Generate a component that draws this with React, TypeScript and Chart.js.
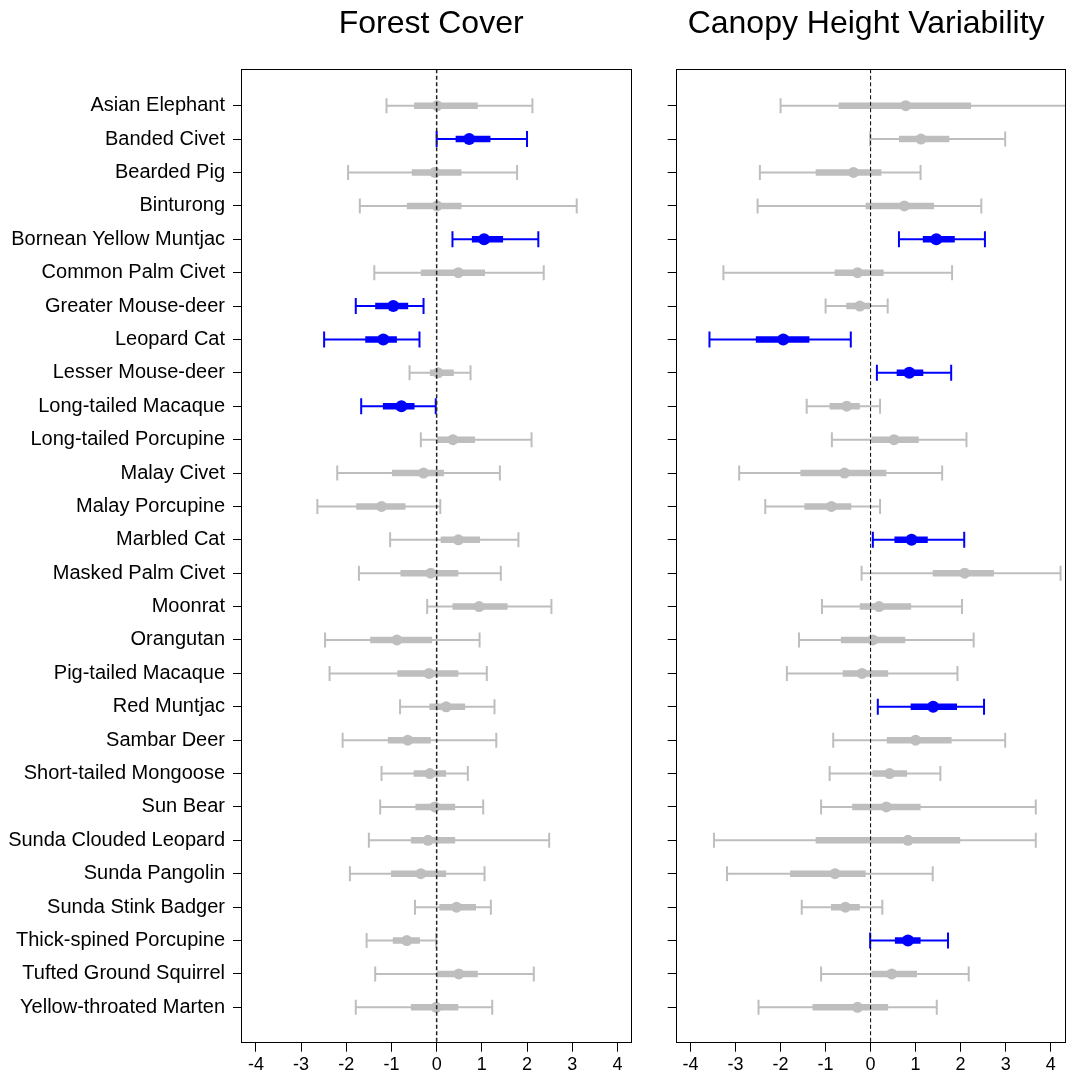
import React, { useEffect, useRef } from "react";
import { Chart, registerables } from "chart.js";

Chart.register(...registerables);

const species = [
  "Asian Elephant", "Banded Civet", "Bearded Pig", "Binturong", "Bornean Yellow Muntjac",
  "Common Palm Civet", "Greater Mouse-deer", "Leopard Cat", "Lesser Mouse-deer",
  "Long-tailed Macaque", "Long-tailed Porcupine", "Malay Civet", "Malay Porcupine",
  "Marbled Cat", "Masked Palm Civet", "Moonrat", "Orangutan", "Pig-tailed Macaque",
  "Red Muntjac", "Sambar Deer", "Short-tailed Mongoose", "Sun Bear", "Sunda Clouded Leopard",
  "Sunda Pangolin", "Sunda Stink Badger", "Thick-spined Porcupine", "Tufted Ground Squirrel",
  "Yellow-throated Marten",
];

// Forest Cover
const fcEst = [0.01, 0.72, -0.04, 0.01, 1.05, 0.48, -0.96, -1.18, 0.03, -0.78, 0.36, -0.29, -1.22, 0.48, -0.13, 0.94, -0.88, -0.17, 0.21, -0.64, -0.15, -0.04, -0.19, -0.35, 0.44, -0.66, 0.49, -0.01];
const fcLo50 = [-0.50, 0.42, -0.55, -0.66, 0.78, -0.35, -1.36, -1.58, -0.15, -1.19, 0.00, -0.99, -1.78, 0.09, -0.80, 0.35, -1.47, -0.87, -0.16, -1.08, -0.51, -0.47, -0.57, -1.01, 0.06, -0.97, 0.00, -0.57];
const fcHi50 = [0.91, 1.19, 0.55, 0.55, 1.47, 1.07, -0.63, -0.88, 0.38, -0.49, 0.85, 0.16, -0.69, 0.96, 0.48, 1.57, -0.10, 0.48, 0.63, -0.13, 0.21, 0.41, 0.41, 0.21, 0.87, -0.37, 0.91, 0.48];
const fcLo95 = [-1.11, 0.00, -1.96, -1.70, 0.35, -1.38, -1.79, -2.49, -0.60, -1.67, -0.35, -2.20, -2.64, -1.03, -1.72, -0.21, -2.47, -2.37, -0.81, -2.08, -1.22, -1.25, -1.50, -1.92, -0.48, -1.55, -1.36, -1.79];
const fcHi95 = [2.12, 2.00, 1.78, 3.10, 2.25, 2.37, -0.29, -0.38, 0.75, -0.02, 2.10, 1.40, 0.08, 1.81, 1.42, 2.54, 0.95, 1.11, 1.28, 1.32, 0.69, 1.03, 2.49, 1.06, 1.20, -0.01, 2.15, 1.23];
const fcSig = [false, true, false, false, true, false, true, true, false, true, false, false, false, false, false, false, false, false, false, false, false, false, false, false, false, false, false, false];

// Canopy Height Variability
const chEst = [0.78, 1.12, -0.38, 0.75, 1.46, -0.29, -0.24, -1.94, 0.86, -0.53, 0.52, -0.58, -0.87, 0.91, 2.09, 0.19, 0.05, -0.19, 1.39, 1.00, 0.42, 0.35, 0.83, -0.79, -0.56, 0.83, 0.47, -0.29];
const chLo50 = [-0.71, 0.63, -1.22, -0.11, 1.16, -0.80, -0.54, -2.55, 0.58, -0.91, 0.02, -1.56, -1.47, 0.53, 1.38, -0.24, -0.66, -0.62, 0.89, 0.36, 0.04, -0.41, -1.22, -1.79, -0.88, 0.54, 0.02, -1.29];
const chHi50 = [2.23, 1.75, 0.24, 1.41, 1.87, 0.29, 0.00, -1.36, 1.17, -0.24, 1.07, 0.35, -0.43, 1.27, 2.74, 0.90, 0.77, 0.39, 1.92, 1.80, 0.81, 1.11, 1.99, -0.11, -0.24, 1.11, 1.03, 0.39];
const chLo95 = [-2.00, -0.01, -2.46, -2.51, 0.63, -3.27, -1.00, -3.58, 0.14, -1.42, -0.86, -2.92, -2.34, 0.05, -0.20, -1.08, -1.59, -1.86, 0.16, -0.83, -0.91, -1.10, -3.48, -3.19, -1.53, -0.01, -1.10, -2.49];
const chHi95 = [4.60, 2.99, 1.11, 2.46, 2.54, 1.81, 0.38, -0.44, 1.79, 0.21, 2.13, 1.59, 0.21, 2.08, 4.22, 2.03, 2.29, 1.93, 2.52, 2.99, 1.55, 3.67, 3.67, 1.38, 0.26, 1.72, 2.18, 1.47];
const chSig = [false, false, false, false, true, false, false, true, true, false, false, false, false, true, false, false, false, false, true, false, false, false, false, false, false, true, false, false];

const xTickValues = [-4, -3, -2, -1, 0, 1, 2, 3, 4];

const X_MIN = -4.33;
const X_MAX = 4.33;
const Y_MIN = -1.09;
const Y_MAX = 28.06;

const GRAY = "#BEBEBE";
const BLUE = "#0000FF";
const FONT = "'Liberation Sans', Arial, sans-serif";

type PanelProps = {
  title: string;
  titleShift: number;
  est: number[];
  lo50: number[];
  hi50: number[];
  lo95: number[];
  hi95: number[];
  sig: boolean[];
  showLabels: boolean;
  left: number;
  width: number;
  axisWidth: number;
  padRight: number;
  zeroWidth: number;
  zeroColor: string;
};

function Panel(p: PanelProps) {
  const ref = useRef<HTMLCanvasElement>(null);
  useEffect(() => {
    if (!ref.current) return;
    const rows = species.map((_, i) => i);
    const colors = p.sig.map((s) => (s ? BLUE : GRAY));

    const framePlugin = {
      id: "frame",
      afterLayout(chart: any) {
        const t = chart.titleBlock;
        if (t) {
          t.left += 2 * p.titleShift;
        }
      },
      afterDatasetsDraw(chart: any) {
        const { ctx, chartArea } = chart;
        const xs = chart.scales.x;
        const x0 = xs.getPixelForValue(0);
        ctx.save();
        ctx.beginPath();
        ctx.setLineDash([4, 2.5]);
        ctx.lineWidth = p.zeroWidth;
        ctx.strokeStyle = p.zeroColor;
        ctx.moveTo(x0, chartArea.top);
        ctx.lineTo(x0, chartArea.bottom);
        ctx.stroke();
        ctx.restore();
      },
      afterDraw(chart: any) {
        const { ctx, chartArea } = chart;
        ctx.save();
        ctx.lineWidth = 1;
        ctx.strokeStyle = "#000";
        ctx.strokeRect(
          Math.round(chartArea.left) + 0.5,
          Math.round(chartArea.top) + 0.5,
          Math.round(chartArea.right - chartArea.left) - 1,
          Math.round(chartArea.bottom - chartArea.top)
        );
        ctx.restore();
      },
    };

    const chart = new Chart(ref.current, {
      type: "bar",
      data: {
        datasets: [
          {
            type: "scatter",
            data: rows.map((i) => ({ x: p.est[i], y: i })),
            pointRadius: p.sig.map((s) => (s ? 6 : 5.5)),
            pointBackgroundColor: colors,
            pointBorderWidth: 0,
            clip: 0,
          } as any,
          {
            type: "scatter",
            data: rows.flatMap((i) => [
              { x: p.lo95[i], y: i },
              { x: p.hi95[i], y: i },
            ]),
            pointStyle: "line",
            pointRotation: 90,
            pointRadius: rows.flatMap((i) => (p.sig[i] ? [8, 8] : [7.5, 7.5])),
            pointBorderColor: rows.flatMap((i) => [colors[i], colors[i]]),
            pointBorderWidth: 2,
            clip: 0,
          } as any,
          {
            type: "bar",
            indexAxis: "y",
            grouped: false,
            data: rows.map((i) => ({ x: [p.lo50[i], p.hi50[i]], y: i })),
            backgroundColor: colors,
            barThickness: 6.5,
            borderWidth: 0,
            inflateAmount: 0,
            clip: 0,
          } as any,
          {
            type: "bar",
            indexAxis: "y",
            grouped: false,
            data: rows.map((i) => ({ x: [p.lo95[i], p.hi95[i]], y: i })),
            backgroundColor: colors,
            barThickness: 2,
            borderWidth: 0,
            inflateAmount: 0,
            clip: 0,
          } as any,
        ],
      },
      options: {
        responsive: false,
        animation: false,
        events: [],
        layout: { autoPadding: false, padding: { left: 0, right: p.padRight, top: 0, bottom: 0 } },
        plugins: {
          legend: { display: false },
          tooltip: { enabled: false },
          title: {
            display: true,
            text: p.title,
            fullSize: false,
            color: "#000",
            font: { family: FONT, size: 32, weight: "normal" },
            padding: { top: 5, bottom: 25.9 },
          },
        },
        scales: {
          x: {
            type: "linear",
            min: X_MIN,
            max: X_MAX,
            offset: false,
            beginAtZero: false,
            afterBuildTicks: (s: any) => {
              s.ticks = xTickValues.map((v) => ({ value: v }));
            },
            afterFit: (s: any) => {
              s.height = 32.3;
              s.paddingLeft = 0;
              s.paddingRight = 0;
            },
            ticks: {
              color: "#000",
              font: { family: FONT, size: 18 },
              padding: 3,
              autoSkip: false,
              maxRotation: 0,
              callback: (v: any) => String(v),
            },
            grid: {
              offset: false,
              drawOnChartArea: false,
              drawTicks: true,
              tickLength: 9,
              tickColor: "#000",
              tickWidth: 1,
            },
            border: { display: false },
          },
          y: {
            type: "linear",
            reverse: true,
            min: Y_MIN,
            max: Y_MAX,
            offset: false,
            beginAtZero: false,
            afterBuildTicks: (s: any) => {
              s.ticks = species.map((_, i) => ({ value: i }));
            },
            afterFit: (s: any) => {
              s.width = p.axisWidth;
              s.paddingTop = 0;
              s.paddingBottom = 0;
            },
            ticks: {
              color: "#000",
              font: { family: FONT, size: 20 },
              padding: 8,
              autoSkip: false,
              callback: (v: any) => (p.showLabels ? species[Math.round(v)] : ""),
            },
            grid: {
              offset: false,
              drawOnChartArea: false,
              drawTicks: true,
              tickLength: 8,
              tickColor: "#000",
              tickWidth: 1,
            },
            border: { display: false },
          },
        },
      } as any,
      plugins: [framePlugin],
    });
    return () => chart.destroy();
  }, []);

  return (
    <canvas
      ref={ref}
      width={p.width}
      height={1075}
      style={{ position: "absolute", left: p.left, top: 0, width: p.width, height: 1075 }}
    />
  );
}

export default function App() {
  return (
    <div style={{ position: "absolute", left: 0, top: 0, width: 1066, height: 1075, background: "#fff", overflow: "hidden" }}>
      <Panel
        title="Forest Cover"
        titleShift={-5.5}
        est={fcEst}
        lo50={fcLo50}
        hi50={fcHi50}
        lo95={fcLo95}
        hi95={fcHi95}
        sig={fcSig}
        showLabels={true}
        left={0}
        width={645}
        axisWidth={241}
        padRight={12.7}
        zeroWidth={1.5}
        zeroColor="#222"
      />
      <Panel
        title="Canopy Height Variability"
        titleShift={-4.5}
        est={chEst}
        lo50={chLo50}
        hi50={chHi50}
        lo95={chLo95}
        hi95={chHi95}
        sig={chSig}
        showLabels={false}
        left={645}
        width={421}
        axisWidth={30.7}
        padRight={0.5}
        zeroWidth={1}
        zeroColor="#000"
      />
    </div>
  );
}
